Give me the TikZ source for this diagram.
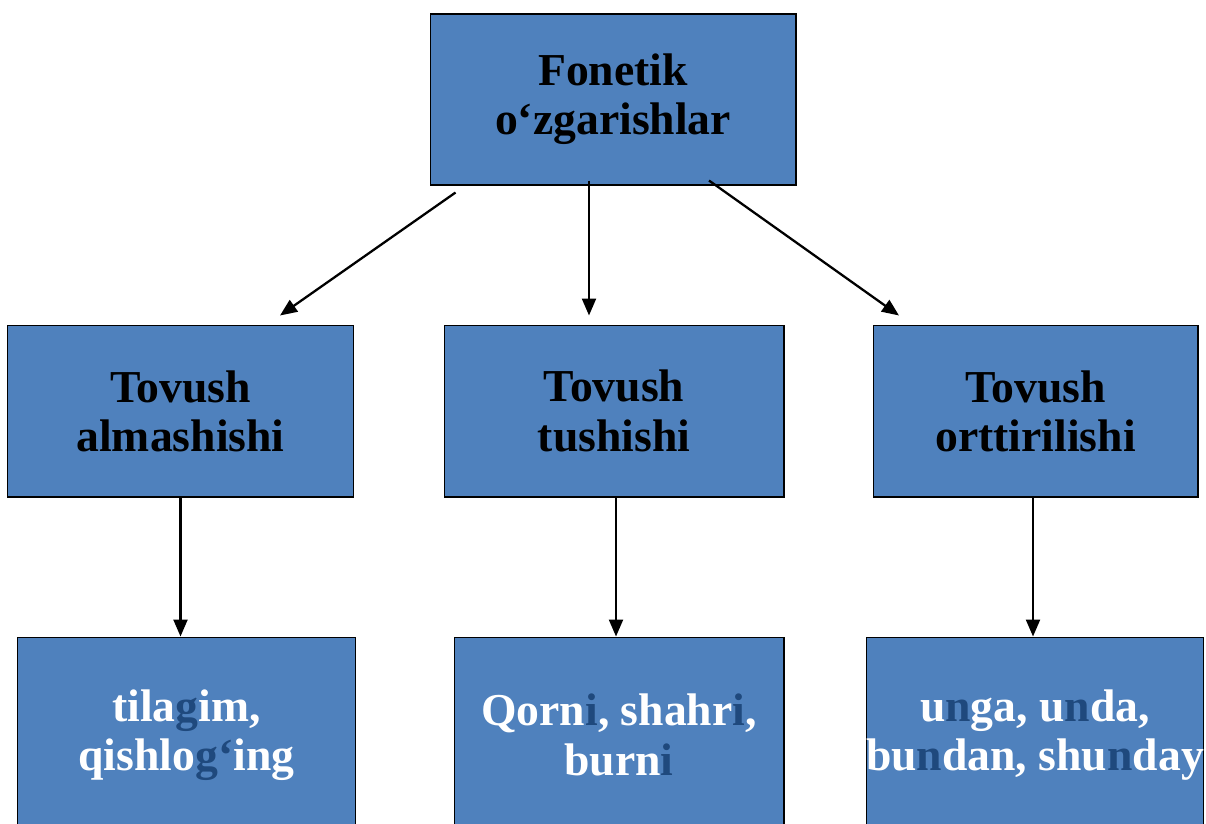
\documentclass[tikz,border=0pt]{standalone}
\usepackage{fontspec}
\setmainfont{Liberation Serif}
\usetikzlibrary{arrows.meta,calc}
\definecolor{boxblue}{HTML}{4F81BD}
\definecolor{darkblue}{HTML}{1F497D}
\newcommand\dk[1]{\textcolor{darkblue}{#1}}

\begin{document}
\begin{tikzpicture}[x=0.02cm,y=-0.02cm,
    box/.style={draw=black,line width=0.6pt,fill=boxblue,align=center,inner sep=0pt,
      font=\fontsize{26}{28}\selectfont\bfseries},
    word/.style={box,text=white,minimum height=3.92cm},
    arr/.style={line width=1.3pt,-{Triangle[length=0.34cm,width=0.28cm]}}]
\useasboundingbox (0,0) rectangle (1206,823);
\clip (0,0) rectangle (1206,823);
% top
\node[box,minimum width=7.32cm,minimum height=3.42cm] (top) at (613,99.5) {Fonetik\\o‘zgarishlar};
% middle row
\node[box,minimum width=6.94cm,minimum height=3.44cm] (almash) at (180.5,411) {Tovush\\almashishi};
\node[box,minimum width=6.8cm,minimum height=3.44cm] (tush) at (614,411) {Tovush\\tushishi};
\node[box,minimum width=6.5cm,minimum height=3.44cm] (ortt) at (1035.5,411) {Tovush\\orttirilishi};
% bottom row
\node[word,minimum width=6.78cm] (ex1) at (186.5,735) {tila\dk{g}im,\\qishlo\dk{g‘}ing};
\node[word,minimum width=6.6cm] (ex2) at (619,735) {Qorn\dk{i}, shahr\dk{i},\\burn\dk{i}};
\node[word,minimum width=6.68cm] (ex3) at (1035,735) {u\dk{n}ga, u\dk{n}da,\\bu\dk{n}dan, shu\dk{n}day};
% arrows
\draw[arr] ($(top.south west)+(26,7)$) -- ($(almash.north)+(99.5,-9)$);
\draw[arr] ($(top.south)+(-24,-5)$) -- ($(tush.north)+(-25,-9)$);
\draw[arr] ($(top.south)+(96,-5)$) -- ($(ortt.north)+(-136.5,-9)$);
\draw[arr] (almash.south) -- (almash.south |- ex1.north);
\draw[arr] ($(tush.south)+(2,0)$) -- ($(tush.south |- ex2.north)+(2,0)$);
\draw[arr] ($(ortt.south)+(-2.5,0)$) -- ($(ortt.south |- ex3.north)+(-2.5,0)$);
\end{tikzpicture}
\end{document}
